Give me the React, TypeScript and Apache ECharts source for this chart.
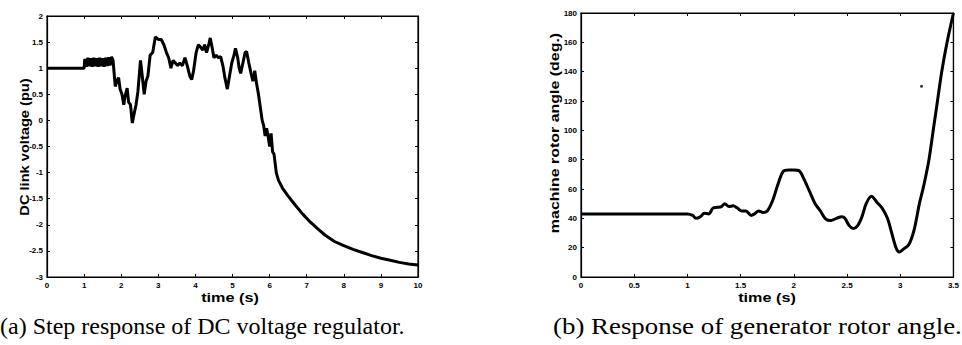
import React, { useEffect, useRef } from "react";
import * as echarts from "echarts";

// (a) DC link voltage (pu) vs time (s)
const leftTime = [
  0, 1.0, 1.02, 1.06, 1.1, 1.14, 1.18, 1.22, 1.26, 1.3, 1.34, 1.38, 1.42, 1.46, 1.5, 1.54, 1.58, 1.62, 1.66, 1.7,
  1.74, 1.78, 1.84, 1.88, 1.93, 1.97, 2.02, 2.07, 2.1, 2.16, 2.2, 2.25, 2.3, 2.34, 2.4, 2.45, 2.52, 2.56, 2.62,
  2.67, 2.72, 2.78, 2.85, 2.92, 3.0, 3.08, 3.15, 3.22, 3.28, 3.34, 3.4, 3.46, 3.52, 3.58, 3.65, 3.72, 3.78, 3.85,
  3.9, 3.95, 4.02, 4.08, 4.14, 4.2, 4.25, 4.3, 4.36, 4.4, 4.45, 4.5, 4.56, 4.62, 4.68, 4.74, 4.8, 4.86, 4.92,
  4.98, 5.04, 5.08, 5.14, 5.18, 5.22, 5.28, 5.34, 5.38, 5.44, 5.5, 5.55, 5.6, 5.65, 5.7, 5.76, 5.8, 5.84, 5.88,
  5.92, 5.96, 6.0, 6.04, 6.08, 6.12, 6.18, 6.24, 6.35, 6.5, 6.7, 6.9, 7.1, 7.3, 7.5, 7.75, 8.0, 8.25, 8.5, 8.75,
  9.0, 9.25, 9.5, 9.75, 10.0,
];
const leftVoltage = [
  1.0, 1.0, 1.18, 1.03, 1.2, 1.04, 1.19, 1.03, 1.2, 1.04, 1.19, 1.03, 1.2, 1.04, 1.19, 1.03, 1.2, 1.04, 1.21, 1.05,
  1.22, 1.15, 0.65, 0.75, 0.82, 0.6, 0.5, 0.3, 0.45, 0.62, 0.35, 0.3, -0.05, 0.1, 0.3, 0.55, 1.15, 0.9, 0.5,
  0.75, 0.85, 1.25, 1.3, 1.6, 1.55, 1.55, 1.45, 1.3, 1.2, 1.0, 1.15, 1.1, 1.05, 1.1, 1.05, 1.2, 1.05, 0.85,
  0.78, 0.95, 1.3, 1.45, 1.4, 1.35, 1.45, 1.3, 1.45, 1.58, 1.4, 1.2, 1.25, 1.2, 1.22, 1.05, 0.8, 0.6, 0.85,
  1.1, 1.25, 1.38, 1.2, 1.0, 0.9, 1.1, 1.3, 1.32, 1.1, 0.9, 0.75, 0.95, 0.7, 0.5, 0.2, 0.0, -0.1, -0.3,
  -0.15, -0.3, -0.5, -0.25, -0.6, -0.65, -1.0, -1.15, -1.3, -1.45, -1.63, -1.8, -1.95, -2.08, -2.2, -2.32, -2.4, -2.47, -2.53, -2.59,
  -2.64, -2.68, -2.72, -2.75, -2.77,
];

// (b) machine rotor angle (deg.) vs time (s)
const rightTime = [
  0, 1.0, 1.05, 1.08, 1.12, 1.16, 1.2, 1.24, 1.28, 1.32, 1.35, 1.39, 1.43, 1.47, 1.51, 1.55, 1.6, 1.63, 1.67, 1.71,
  1.75, 1.8, 1.85, 1.9, 1.95, 2.0, 2.05, 2.1, 2.15, 2.2, 2.25, 2.3, 2.35, 2.4, 2.45, 2.48, 2.52, 2.56, 2.6, 2.64,
  2.68, 2.73, 2.78, 2.83, 2.88, 2.92, 2.96, 2.99, 3.03, 3.08, 3.13, 3.18, 3.22, 3.27, 3.31, 3.35, 3.39, 3.44, 3.5,
];
const rightAngle = [
  43, 43, 42, 40, 41, 43.5, 43, 47, 47.5, 48, 50, 48, 48.5, 47, 45, 45, 42, 43, 45, 44,
  45, 52, 63, 72, 73, 73, 72.5, 66, 58, 50, 45, 39.5, 38.5, 40, 41, 40, 35, 33, 35, 41,
  50, 55, 51, 47, 40, 30, 20, 17, 19, 22, 32, 50, 62, 80, 100, 120, 140, 160, 180,
];
const strayDot = [[3.2, 130]];

const leftXTicks = { min: 0, max: 10, interval: 1 };
const leftYTicks = { min: -3, max: 2, interval: 0.5 };
const rightXTicks = { min: 0, max: 3.5, interval: 0.5 };
const rightYTicks = { min: 0, max: 180, interval: 20 };

const captionA = "(a) Step response of DC voltage regulator.";
const captionB = "(b) Response of generator rotor angle.";

export default function App() {
  const ref = useRef<HTMLDivElement>(null);
  useEffect(() => {
    if (!ref.current) return;
    const chart = echarts.init(ref.current, undefined, { renderer: "svg" });
    const labelStyle = () => ({
      color: "#000",
      fontSize: 8,
      fontWeight: "bold" as const,
      fontFamily: "Liberation Sans",
      margin: 4,
    });
    const line = () => ({ show: true, onZero: false, lineStyle: { color: "#000", width: 1.2 } });
    const tick = () => ({ show: true, inside: true, length: 3, lineStyle: { color: "#000", width: 1 } });
    const mkX = (grid: number, t: any, main: boolean) => ({
      type: "value",
      gridIndex: grid,
      position: main ? "bottom" : "top",
      min: t.min,
      max: t.max,
      interval: t.interval,
      axisLine: line(),
      axisTick: tick(),
      axisLabel: main ? labelStyle() : { show: false },
      splitLine: { show: false },
    });
    const mkY = (grid: number, t: any, main: boolean) => ({
      type: "value",
      gridIndex: grid,
      position: main ? "left" : "right",
      min: t.min,
      max: t.max,
      interval: t.interval,
      axisLine: line(),
      axisTick: tick(),
      axisLabel: main ? labelStyle() : { show: false },
      splitLine: { show: false },
    });
    const nameStyle = {
      fill: "#000",
      fontFamily: "Liberation Sans",
      fontWeight: "bold",
      fontSize: 12,
      align: "center",
      verticalAlign: "middle",
    };
    const capStyle = {
      fill: "#000",
      fontFamily: "Liberation Serif",
      fontSize: 24,
      align: "left",
      verticalAlign: "middle",
    };
    chart.setOption({
      animation: false,
      backgroundColor: "#fff",
      grid: [
        { left: 47, top: 16, width: 371, height: 261, show: true, borderColor: "#000", borderWidth: 1.2, backgroundColor: "transparent" },
        { left: 581, top: 13, width: 374, height: 264, show: true, borderColor: "#000", borderWidth: 1.2, backgroundColor: "transparent" },
      ],
      xAxis: [
        mkX(0, leftXTicks, true),
        mkX(0, leftXTicks, false),
        mkX(1, rightXTicks, true),
        mkX(1, rightXTicks, false),
      ],
      yAxis: [
        mkY(0, leftYTicks, true),
        mkY(0, leftYTicks, false),
        mkY(1, rightYTicks, true),
        mkY(1, rightYTicks, false),
      ],
      series: [
        {
          type: "line",
          xAxisIndex: 0,
          yAxisIndex: 0,
          data: leftTime.map((t, i) => [t, leftVoltage[i]]),
          showSymbol: false,
          lineStyle: { color: "#000", width: 3 },
        },
        {
          type: "line",
          xAxisIndex: 1,
          yAxisIndex: 1,
          data: [],
          showSymbol: false,
        },
        {
          type: "line",
          xAxisIndex: 2,
          yAxisIndex: 2,
          data: rightTime.map((t, i) => [t, rightAngle[i]]),
          showSymbol: false,
          smooth: 0.3,
          lineStyle: { color: "#000", width: 3 },
        },
        {
          type: "line",
          xAxisIndex: 3,
          yAxisIndex: 3,
          data: [],
          showSymbol: false,
        },
        {
          type: "scatter",
          xAxisIndex: 2,
          yAxisIndex: 2,
          data: strayDot,
          symbolSize: 3,
          itemStyle: { color: "#000" },
        },
      ],
      graphic: [
        { type: "text", x: 230, y: 298, scaleX: 1.35, style: { ...nameStyle, text: "time (s)" } },
        { type: "text", x: 767, y: 298, scaleX: 1.35, style: { ...nameStyle, text: "time (s)" } },
        {
          type: "text",
          x: 25,
          y: 147,
          rotation: Math.PI / 2,
          scaleX: 1.22,
          style: { ...nameStyle, text: "DC link voltage (pu)" },
        },
        {
          type: "text",
          x: 555,
          y: 133,
          rotation: Math.PI / 2,
          scaleX: 1.33,
          style: { ...nameStyle, text: "machine rotor angle (deg.)" },
        },
        { type: "text", x: 0, y: 326, style: { ...capStyle, text: captionA } },
        { type: "text", x: 553, y: 326, scaleX: 1.12, style: { ...capStyle, text: captionB } },
      ],
    });
    return () => chart.dispose();
  }, []);
  return (
    <div
      ref={ref}
      style={{ position: "absolute", left: 0, top: 0, width: 962, height: 345, background: "#fff" }}
    />
  );
}
